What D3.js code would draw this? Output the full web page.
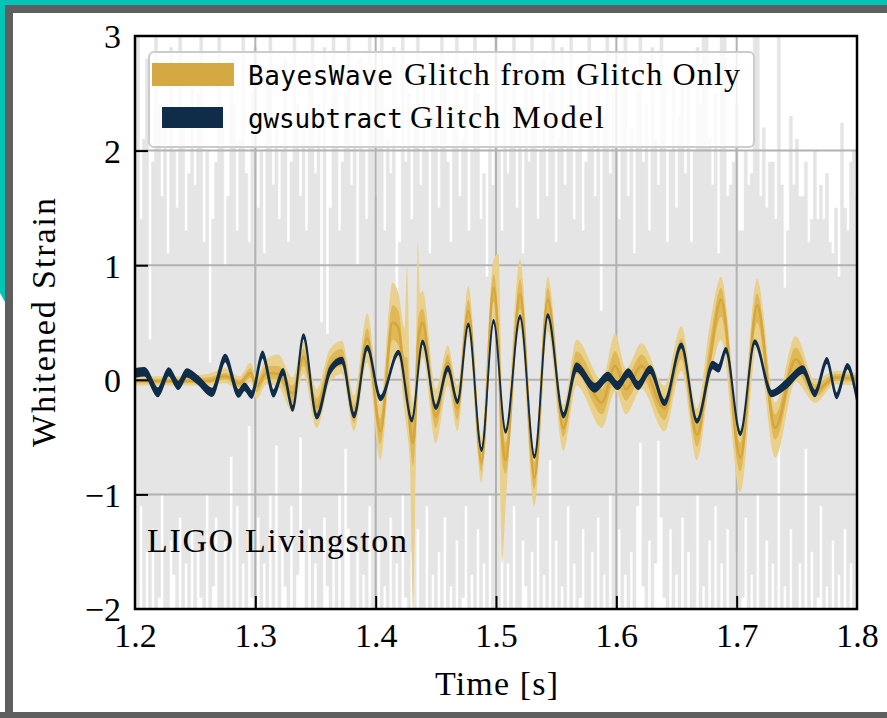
<!DOCTYPE html>
<html>
<head>
<meta charset="utf-8">
<script src="https://cdn.jsdelivr.net/npm/d3@7"></script>
<style>
  html, body { margin: 0; padding: 0; background: #ffffff; }
  svg { display: block; }
</style>
</head>
<body>
<svg id="chart" width="887" height="718"></svg>
<script>
// ---------------- data ----------------
const xTickValues = [1.2, 1.3, 1.4, 1.5, 1.6, 1.7, 1.8];
const yTickValues = [-2, -1, 0, 1, 2, 3];

// whitened detector strain: upper and lower excursion in each 2.5 ms bin from 1.2 s
const noiseStart = 1.2;
const noiseStep = 0.0025;
const noiseHigh = [
  2.6, 3.2, 1.4, 2.1, 2.8, 0.35, 1.9, 3.1, 2.4, 1.6, 2.2, 1.1, 2.9, 2.0, 1.5, 3.3, 2.3, 1.3, 1.8, 2.7,
  1.7, 2.5, 3.0, 1.2, 2.0, 0.15, 1.4, 1.9, 3.4, 2.2, 1.0, 1.6, 2.8, 2.4, 1.3, 2.1, 3.1, 1.8, 1.2, 2.5,
  2.9, 1.5, 2.0, 1.1, 2.6, 3.2, 1.7, 2.3, 1.4, 2.0, 2.8, 1.2, 1.9, 3.0, 2.4, 1.6, 2.2, 1.3, 2.7, 3.3,
  1.8, 2.4, 0.5, 2.9, 0.4, 1.5, 3.1, 2.6, 1.3, 1.9, 2.5, 3.4, 1.7, 2.2, 1.0, 2.8, 2.0, 1.4, 3.0, 2.3,
  1.6, 2.7, 3.2, 1.3, 2.1, 1.8, 2.9, 0.7, 1.2, 3.1, 1.9, 2.5, 1.4, 2.2, 3.3, 1.7, 2.6, 2.0, 1.1, 2.8,
  2.3, 1.5, 3.0, 2.6, 1.9, 1.2, 2.4, 3.2, 1.6, 2.1, 2.8, 1.3, 2.0, 3.4, 2.5, 1.4, 1.8, 0.9, 2.2, 1.7,
  3.1, 2.0, 1.3, 2.7, 1.8, 2.4, 3.0, 1.5, 2.2, 1.1, 2.6, 1.9, 3.3, 2.3, 1.4, 2.0, 2.8, 1.6, 2.5, 3.2,
  1.2, 2.1, 2.9, 1.7, 2.4, 3.1, 1.4, 2.0, 2.6, 1.3, 1.9, 3.4, 2.2, 1.6, 2.7, 0.6, 2.3, 3.0, 1.8, 2.5,
  2.0, 1.4, 2.8, 3.2, 1.6, 2.2, 1.1, 2.5, 3.0, 1.9, 2.4, 1.3, 2.9, 2.1, 1.7, 3.3, 2.6, 1.2, 2.0, 2.7,
  1.5, 2.3, 2.6, 1.8, 2.6, 1.2, 2.0, 2.9, 2.4, 3.4, 3.2, 2.1, 1.7, 2.5, 1.1, 3.3, 3.4, 1.6, 1.7, 1.9,
  2.4, 1.3, 1.3, 2.0, 1.7, 1.8, 3.4, 3.2, 1.6, 2.2, 1.5, 1.9, 1.9, 1.4, 3.5, 1.7, 0.8, 1.3, 2.3, 1.7,
  2.1, 1.6, 1.6, 1.9, 1.2, 1.4, 2.0, 1.4, 1.7, 1.4, 1.8, 1.2, 1.1, 1.5, 0.9, 2.24, 1.5, 1.3, 1.9, 2.0,
  1.6
];
const noiseLow = [
  -1.8, -2.4, -1.1, -2.9, -1.5, -2.0, -1.3, -2.6, -1.9, -1.0, -2.2, -2.8, -1.4, -1.7, -2.5, -1.2, -3.0, -1.6, -2.1, -1.3,
  -2.7, -1.5, -1.9, -2.3, -1.0, -2.6, -1.8, -1.2, -2.9, -2.0, -1.4, -2.4, -0.67, -3.1, -1.1, -2.2, -1.6, -2.7, -0.4, -1.9,
  -2.5, -1.2, -2.8, -1.6, -2.1, -1.0, -2.4, -0.57, -2.9, -1.4, -1.8, -2.6, -1.1, -2.3, -1.7, -0.5, -1.5, -2.0, -1.3, -2.5,
  -1.6, -2.2, -2.9, -1.2, -1.8, -2.6, -1.4, -2.1, -1.0, -2.7, -0.6, -1.3, -2.4, -3.1, -1.5, -2.0, -1.7, -2.8, -1.1, -2.3,
  -2.0, -1.4, -2.6, -1.8, -3.0, -1.2, -2.2, -1.6, -2.5, -1.0, -1.9, -2.8, -1.5, -2.3, -1.3, -2.7, -2.1, -1.1, -2.4, -1.7,
  -2.9, -1.5, -2.0, -1.2, -2.6, -1.8, -2.3, -1.4, -3.1, -1.9, -1.1, -2.5, -1.7, -2.1, -1.3, -2.8, -1.6, -2.2, -1.0, -2.4,
  -1.9, -2.7, -1.3, -2.2, -1.6, -2.9, -1.1, -2.0, -2.5, -1.4, -1.8, -3.0, -1.5, -2.3, -1.2, -2.6, -1.7, -2.1, -0.7, -2.8,
  -1.4, -2.2, -1.8, -2.7, -1.1, -2.4, -1.6, -3.1, -1.9, -1.3, -2.5, -2.0, -1.5, -2.8, -1.2, -2.1, -1.7, -2.6, -1.0, -2.3,
  -2.6, -1.3, -2.0, -1.7, -2.9, -1.5, -2.2, -1.1, -0.55, -1.8, -2.8, -1.4, -2.1, -1.6, -0.53, -1.2, -1.9, -2.4, -1.3, -2.7,
  -1.7, -2.3, -1.2, -2.8, -1.5, -2.0, -2.6, -1.0, -2.2, -1.8, -2.9, -1.4, -2.4, -1.1, -2.1, -1.6, -2.7, -1.3, -2.0, -2.5,
  -1.5, -2.9, -1.9, -1.2, -2.4, -1.7, -2.2, -1.0, -2.6, -2.0, -1.4, -2.8, -1.6, -2.3, -0.4, -2.5, -1.8, -3.0, -1.3, -2.1,
  -2.4, -1.6, -2.0, -0.6, -2.7, -1.5, -2.3, -1.9, -1.1, -2.6, -1.8, -2.2, -1.4, -2.9, -1.7, -2.0, -1.3, -2.5, -1.6, -2.2,
  -1.8
];

// gwsubtract glitch model: knot times, strain and half-width of its band
const navyTime = [1.200,1.208,1.219,1.228,1.236,1.243,1.252,1.264,1.275,1.286,
  1.291,1.297,1.306,1.315,1.323,1.331,1.340,1.351,1.362,1.372,
  1.382,1.393,1.404,1.419,1.430,1.439,1.450,1.460,1.468,1.477,
  1.488,1.498,1.508,1.520,1.532,1.543,1.556,1.567,1.582,1.593,
  1.601,1.610,1.618,1.628,1.640,1.654,1.667,1.680,1.685,1.691,
  1.703,1.715,1.729,1.742,1.755,1.765,1.775,1.783,1.792,1.800];
const navyStrain = [0.06,0.07,-0.11,0.07,-0.05,0.06,0.0,-0.11,0.19,-0.12,
  -0.06,-0.13,0.22,-0.12,0.07,-0.25,0.38,-0.32,0.08,0.17,
  -0.31,0.28,-0.16,0.24,-0.35,0.33,-0.24,0.10,-0.19,0.48,
  -0.61,0.51,-0.45,0.55,-0.67,0.56,-0.31,0.11,-0.07,0.03,
  -0.05,0.06,-0.05,0.09,-0.20,0.30,-0.36,0.13,0.10,0.26,
  -0.47,0.33,-0.12,-0.03,0.09,-0.12,0.17,-0.14,0.12,-0.17];
const navyHalf = [0.035,0.035,0.035,0.033,0.033,0.033,0.033,0.033,0.03,0.03,
  0.03,0.03,0.028,0.028,0.025,0.022,0.02,0.02,0.028,0.025,
  0.02,0.018,0.02,0.016,0.015,0.015,0.016,0.02,0.016,0.013,
  0.013,0.013,0.013,0.013,0.013,0.013,0.02,0.035,0.035,0.033,
  0.033,0.033,0.033,0.03,0.022,0.018,0.016,0.03,0.03,0.02,
  0.015,0.016,0.025,0.035,0.03,0.025,0.022,0.022,0.02,0.02];

// BayesWave glitch reconstruction: median with 50% and 90% credible bands
const goldTime = [1.200,1.230,1.260,1.275,1.287,1.296,1.301,1.309,1.319,1.331,
  1.340,1.351,1.362,1.372,1.382,1.393,1.404,1.414,1.419,1.424,
  1.426,1.4285,1.431,1.4335,1.435,1.437,1.439,1.450,1.460,1.468,
  1.477,1.488,1.498,1.502,1.505,1.508,1.520,1.532,1.543,1.556,
  1.567,1.588,1.599,1.608,1.621,1.640,1.654,1.667,1.678,1.687,
  1.703,1.717,1.732,1.749,1.765,1.782,1.800];
const goldMedian = [-0.01,-0.01,-0.01,0.03,-0.03,0.06,-0.06,0.06,0.05,-0.12,
  0.20,-0.24,0.12,0.20,-0.30,0.36,-0.45,0.50,0.45,0.00,
  -0.10,-0.40,-0.55,-0.20,0.30,0.45,0.50,-0.32,0.15,-0.25,
  0.60,-0.72,0.80,0.30,-0.50,-0.70,0.75,-0.85,0.70,-0.42,
  0.15,-0.20,0.12,-0.08,0.12,-0.25,0.28,-0.48,0.20,0.70,
  -0.68,0.65,-0.42,0.18,-0.10,0.02,0.01];
const gold50Low = [-0.03,-0.03,-0.03,0.00,-0.06,0.02,-0.11,0.01,0.00,-0.20,
  0.12,-0.32,0.05,0.12,-0.38,0.25,-0.56,0.35,0.30,-0.15,
  -0.25,-0.55,-0.75,-0.40,0.10,0.25,0.35,-0.42,0.05,-0.35,
  0.50,-0.80,0.68,0.15,-0.70,-0.82,0.62,-0.95,0.58,-0.50,
  0.05,-0.30,0.00,-0.18,0.02,-0.35,0.18,-0.58,0.10,0.55,
  -0.80,0.50,-0.52,0.08,-0.15,-0.01,-0.02];
const gold50High = [0.01,0.01,0.02,0.06,0.00,0.10,-0.01,0.12,0.12,-0.05,
  0.27,-0.16,0.20,0.27,-0.22,0.45,-0.34,0.65,0.60,0.20,
  0.20,-0.20,-0.35,0.05,0.50,0.60,0.62,-0.20,0.22,-0.15,
  0.70,-0.62,0.92,0.50,-0.30,-0.55,0.88,-0.72,0.80,-0.32,
  0.25,-0.08,0.25,0.02,0.22,-0.15,0.36,-0.38,0.35,0.80,
  -0.55,0.75,-0.30,0.28,-0.04,0.05,0.04];
const gold90Low = [-0.05,-0.05,-0.05,-0.03,-0.10,-0.02,-0.17,-0.04,-0.06,-0.28,
  0.05,-0.42,-0.02,0.05,-0.45,0.15,-0.70,0.20,0.18,-0.30,
  -0.45,-0.75,-2.00,-0.70,-0.10,0.10,0.20,-0.55,-0.05,-0.45,
  0.38,-0.90,0.50,0.00,-1.60,-1.10,0.45,-1.10,0.42,-0.62,
  -0.05,-0.42,-0.10,-0.30,-0.08,-0.45,0.08,-0.70,0.00,0.35,
  -0.98,0.30,-0.68,-0.02,-0.20,-0.04,-0.05];
const gold90High = [0.03,0.03,0.05,0.10,0.03,0.15,0.03,0.18,0.22,0.02,
  0.34,-0.08,0.27,0.34,-0.14,0.58,-0.22,0.85,0.75,0.45,
  1.00,0.00,-0.20,0.30,1.19,0.75,0.78,-0.08,0.30,-0.05,
  0.82,-0.50,1.05,1.10,-0.10,-0.40,1.05,-0.60,0.90,-0.22,
  0.35,0.00,0.40,0.10,0.32,-0.05,0.47,-0.25,0.50,0.90,
  -0.42,0.88,-0.20,0.38,0.00,0.08,0.06];

const legendLabels = [
  { code: "BayesWave", text: "Glitch from Glitch Only" },
  { code: "gwsubtract", text: "Glitch Model" }
];
const detectorLabel = "LIGO Livingston";

// ---------------- fonts ----------------
// use the first installed serif face; otherwise fall back to the default family
function installed(name) {
  const ctx = document.createElement("canvas").getContext("2d");
  const probe = "LIGO Livingston Whitened 1.234";
  ctx.font = "40px monospace";
  const a = ctx.measureText(probe).width;
  ctx.font = `40px "${name}", monospace`;
  const b = ctx.measureText(probe).width;
  return a !== b;
}
const serifName = ["Liberation Serif", "DejaVu Serif", "Tinos", "Times New Roman",
  "Nimbus Roman", "FreeSerif", "Noto Serif"].find(installed);
const serif = serifName ? `"${serifName}", serif` : '"Liberation Sans", "DejaVu Sans", sans-serif';
const mono = '"DejaVu Sans Mono", "Liberation Mono", monospace';

// ---------------- drawing ----------------
const svg = d3.select("#chart");
const C = {
  teal: "#06c4b5", border: "#5f5f5f", noise: "#e5e5e5", grid: "#b2b2b2",
  gold90: "#e9d08c", gold50: "#dfb857", goldMed: "#d5a63c", navy: "#0f2c48"
};

// page frame
svg.append("rect").attr("width", 887).attr("height", 718).attr("fill", "#fff");
svg.append("polygon").attr("points", "0,0 887,0 887,5 5,5 5,302 0,293").attr("fill", C.teal);
svg.append("rect").attr("x", 5).attr("y", 5).attr("width", 882).attr("height", 8).attr("fill", C.border);
svg.append("rect").attr("x", 5).attr("y", 5).attr("width", 8).attr("height", 713).attr("fill", C.border);
svg.append("rect").attr("x", 0).attr("y", 712).attr("width", 887).attr("height", 6).attr("fill", C.border);

const x = d3.scaleLinear().domain([1.2, 1.8]).range([135, 857]);
const y = d3.scaleLinear().domain([-2, 3]).range([609, 36]);
const [x0, x1] = x.range();
const [y0, y1] = [y(3), y(-2)];

svg.append("clipPath").attr("id", "plotClip")
  .append("rect").attr("x", x0).attr("y", y0).attr("width", x1 - x0).attr("height", y1 - y0);

const plot = svg.append("g").attr("clip-path", "url(#plotClip)");

// detector noise envelope
const noiseTime = noiseHigh.map((_, i) => noiseStart + i * noiseStep);
plot.append("path")
  .datum(noiseHigh)
  .attr("d", d3.area().x((d, i) => x(noiseTime[i]))
    .y0((d, i) => y(noiseLow[i])).y1(d => y(d)).curve(d3.curveStep))
  .attr("fill", C.noise).attr("stroke", C.noise).attr("stroke-width", 0.6);

// grid
plot.append("g").selectAll("line").data(xTickValues).join("line")
  .attr("x1", d => x(d)).attr("x2", d => x(d)).attr("y1", y0).attr("y2", y1)
  .attr("stroke", C.grid).attr("stroke-width", 2);
plot.append("g").selectAll("line").data(yTickValues).join("line")
  .attr("y1", d => y(d)).attr("y2", d => y(d)).attr("x1", x0).attr("x2", x1)
  .attr("stroke", C.grid).attr("stroke-width", 2);

// BayesWave bands and median
const band = (lo, hi) => d3.area()
  .x((d, i) => x(goldTime[i]))
  .y0((d, i) => y(lo[i])).y1((d, i) => y(hi[i]))
  .curve(d3.curveMonotoneX);
plot.append("path").datum(goldTime).attr("d", band(gold90Low, gold90High)).attr("fill", C.gold90);
plot.append("path").datum(goldTime).attr("d", band(gold50Low, gold50High)).attr("fill", C.gold50);
plot.append("path").datum(goldMedian)
  .attr("d", d3.line().x((d, i) => x(goldTime[i])).y(d => y(d)).curve(d3.curveMonotoneX))
  .attr("fill", "none").attr("stroke", C.goldMed).attr("stroke-width", 2.5);

// gwsubtract model band
plot.append("path").datum(navyStrain)
  .attr("d", d3.area().x((d, i) => x(navyTime[i]))
    .y0((d, i) => y(d - navyHalf[i])).y1((d, i) => y(d + navyHalf[i]))
    .curve(d3.curveMonotoneX))
  .attr("fill", C.navy).attr("stroke", C.navy).attr("stroke-width", 1.6);

// axes
const fmtY = d => (d < 0 ? "\u2212" + Math.abs(d) : String(d));
const xAxis = svg.append("g").attr("transform", `translate(0,${y1})`)
  .call(d3.axisBottom(x).tickValues(xTickValues).tickFormat(d => d.toFixed(1))
    .tickSizeInner(-13).tickSizeOuter(0).tickPadding(14));
const yAxis = svg.append("g").attr("transform", `translate(${x0},0)`)
  .call(d3.axisLeft(y).tickValues(yTickValues).tickFormat(fmtY)
    .tickSizeInner(-13).tickSizeOuter(0).tickPadding(14));
[xAxis, yAxis].forEach(a => {
  a.attr("font-family", null).attr("font-size", null);
  a.select(".domain").remove();
  a.selectAll(".tick line").attr("stroke", "#000").attr("stroke-width", 2);
  a.selectAll(".tick text").attr("fill", "#000")
    .style("font-family", serif).style("font-size", "34px");
});
yAxis.selectAll(".tick text").attr("dy", "0.35em");
// tick marks that sit on the frame are hidden
xAxis.selectAll(".tick line").filter(d => d === 1.2 || d === 1.8).remove();
yAxis.selectAll(".tick line").filter(d => d === -2 || d === 3).remove();

svg.append("rect").attr("x", x0).attr("y", y0).attr("width", x1 - x0).attr("height", y1 - y0)
  .attr("fill", "none").attr("stroke", "#000").attr("stroke-width", 2.5);

// axis titles
svg.append("text").attr("x", 435).attr("y", 695)
  .attr("textLength", 123).attr("lengthAdjust", "spacing")
  .style("font-family", serif).style("font-size", "34px")
  .text("Time [s]");
svg.append("text").attr("transform", `translate(55,447) rotate(-90)`)
  .attr("textLength", 249).attr("lengthAdjust", "spacing")
  .style("font-family", serif).style("font-size", "34px")
  .text("Whitened Strain");

// detector annotation
svg.append("text").attr("x", 147).attr("y", 552)
  .attr("textLength", 260).attr("lengthAdjust", "spacing")
  .style("font-family", serif).style("font-size", "34px")
  .text(detectorLabel);

// legend
const lg = svg.append("g");
lg.append("rect").attr("x", 149).attr("y", 52).attr("width", 605).attr("height", 95).attr("rx", 5)
  .attr("fill", "#fff").attr("fill-opacity", 0.8).attr("stroke", "#cccccc").attr("stroke-width", 2);
lg.append("rect").attr("x", 152).attr("y", 63).attr("width", 82).attr("height", 23).attr("fill", "#d4a843");
lg.append("rect").attr("x", 162).attr("y", 107).attr("width", 61).attr("height", 21).attr("fill", C.navy);
const rowBase = [85, 128];
const codeWidth = [145, 155];
const textStart = [404, 410];
const textWidth = [336, 194];
legendLabels.forEach((l, i) => {
  lg.append("text").attr("x", 248).attr("y", rowBase[i])
    .attr("textLength", codeWidth[i]).attr("lengthAdjust", "spacing")
    .style("font-family", mono).style("font-size", "26px").text(l.code);
  lg.append("text").attr("x", textStart[i]).attr("y", rowBase[i])
    .attr("textLength", textWidth[i]).attr("lengthAdjust", "spacing")
    .style("font-family", serif).style("font-size", "32px")
    .text(l.text);
});
</script>
</body>
</html>
